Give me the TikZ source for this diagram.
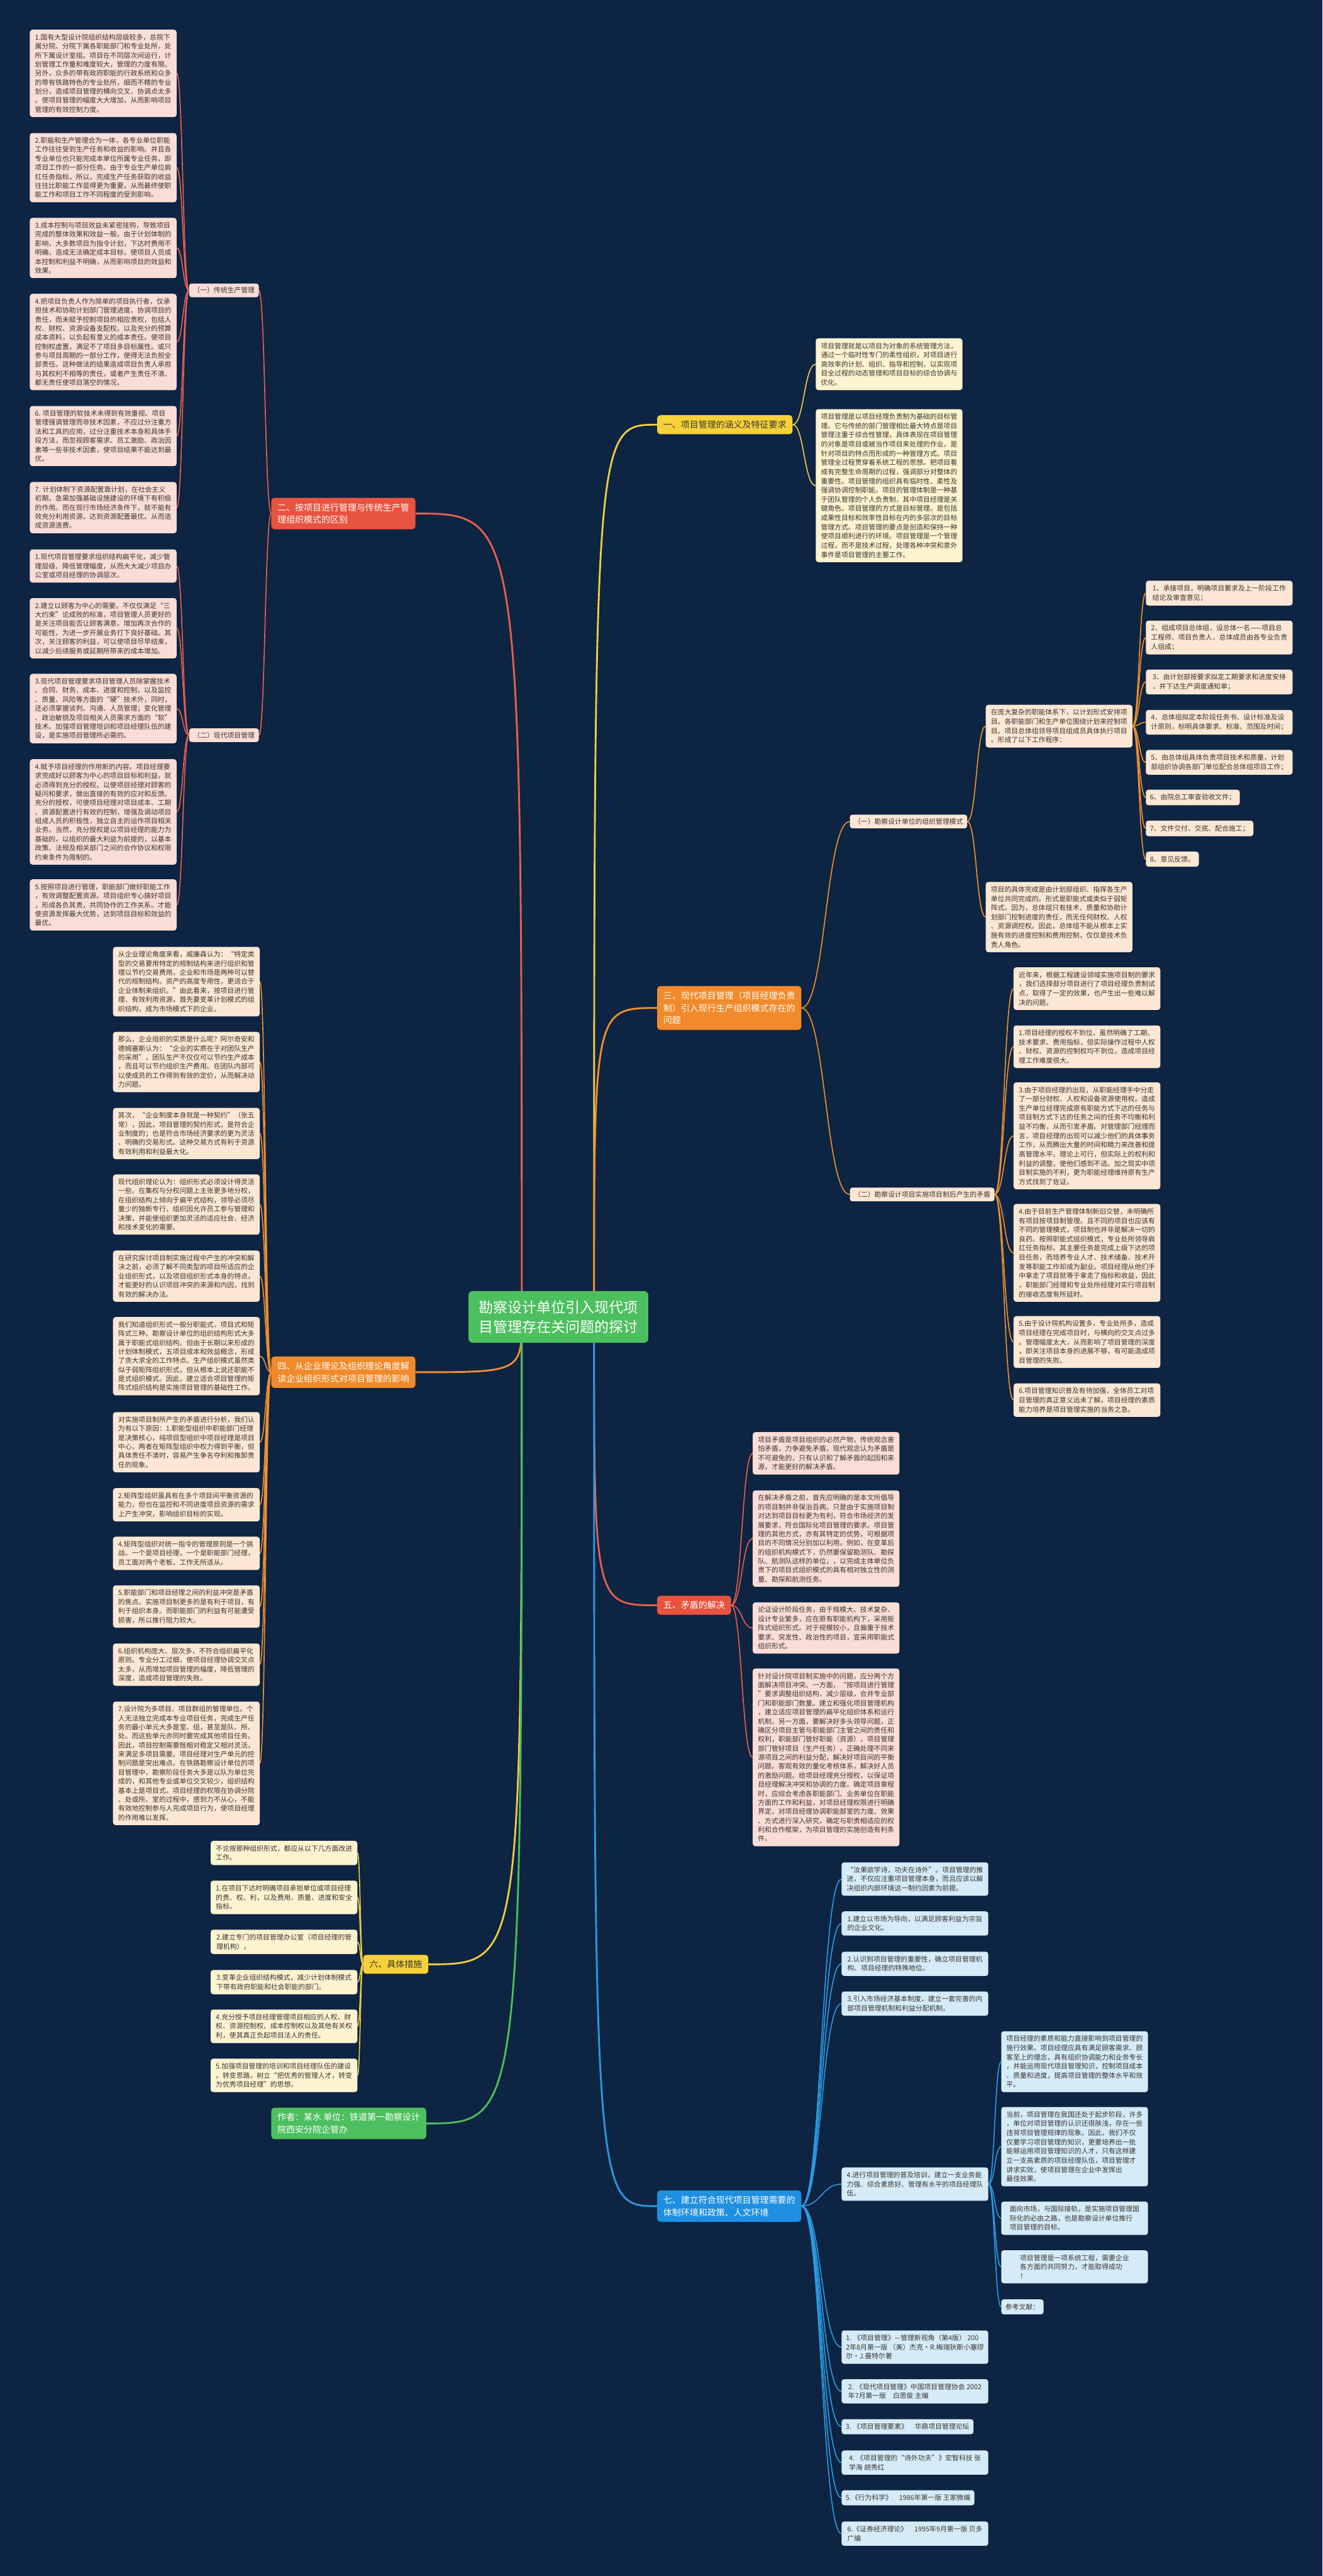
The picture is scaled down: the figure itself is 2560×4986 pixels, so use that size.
\documentclass[tikz,border=0pt]{standalone}
\usepackage{fontspec}
\setmainfont{Noto Sans CJK SC}
\usetikzlibrary{calc}
\definecolor{bgc}{HTML}{0D2442}
\definecolor{txt}{HTML}{3A3530}
\definecolor{redL}{HTML}{E5604F}
\definecolor{redN}{HTML}{E8533F}
\definecolor{pinkbox}{HTML}{FADDD7}
\definecolor{orangeL}{HTML}{F0902F}
\definecolor{orangeN}{HTML}{F08A2A}
\definecolor{peach}{HTML}{FCE7D4}
\definecolor{yellowL}{HTML}{EFCB45}
\definecolor{yellowN}{HTML}{F6D139}
\definecolor{ybox}{HTML}{FCF3D0}
\definecolor{blueL}{HTML}{2A9AE2}
\definecolor{blueN}{HTML}{1E8FE1}
\definecolor{bbox}{HTML}{D5EBF8}
\definecolor{greenN}{HTML}{4CBF5E}
\pgfdeclarelayer{bg}
\pgfsetlayers{bg,main}
\tikzset{
  bx/.style={fill=#1, rounded corners=5pt, text=txt, align=left, minimum width=284pt, inner xsep=8pt, inner ysep=8.4pt},
  bA/.style={bx=#1, font=\fontsize{13.2}{17.5}\selectfont},
  bB/.style={bx=#1, font=\fontsize{13.2}{17.8}\selectfont},
  bBn/.style={bB=#1, minimum width=0pt},
  subn/.style={fill=#1, rounded corners=5pt, text=txt, font=\fontsize{13.2}{17.8}\selectfont, inner xsep=8pt, inner ysep=7pt},
  br/.style={fill=#1, rounded corners=6pt, text=white, align=left, font=\fontsize{17}{24}\selectfont, inner xsep=12pt, inner ysep=10.5pt},
  ctr/.style={fill=greenN, rounded corners=8pt, text=white, align=center, font=\fontsize{28}{38}\selectfont, inner xsep=20pt, inner ysep=18pt},
}
\newcommand\mmconn[3]{\draw[#1] let \p1=(#2), \p2=(#3) in (\p1) .. controls ({0.5*\x1+0.5*\x2},\y1) and ({0.5*\x1+0.5*\x2},\y2) .. (\p2);}
\newcommand\cconn[3]{\draw[draw=#1, line width=3.5pt] let \p1=(#2), \p2=(#3) in (\p1) .. controls (\x1,\y2) .. (\p2);}
\begin{document}
\begin{tikzpicture}[x=1pt,y=-1pt]
\useasboundingbox (0,0) rectangle (2560,4986);
\begin{pgfonlayer}{bg}
\fill[bgc] (0,0) rectangle (2560,4986);
\end{pgfonlayer}

% ---------- centre and branches ----------
\node[ctr] (C) at (1081,2549) {勘察设计单位引入现代项\\目管理存在关问题的探讨};
\coordinate (CR) at (1150,2549);
\coordinate (CL) at (1010,2549);

\node[br=yellowN, text=txt, anchor=west] (B1) at (1272,822) {一、项目管理的涵义及特征要求};
\node[br=redN, anchor=west] (B2) at (525,994) {二、按项目进行管理与传统生产管\\理组织模式的区别};
\node[br=orangeN, anchor=west] (B3) at (1272,1951) {三、现代项目管理（项目经理负责\\制）引入现行生产组织模式存在的\\问题};
\node[br=orangeN, anchor=west] (B4) at (525,2656) {四、从企业理论及组织理论角度解\\读企业组织形式对项目管理的影响};
\node[br=redN, anchor=west] (B5) at (1272,3107) {五、矛盾的解决};
\node[br=yellowN, text=txt, anchor=west] (B6) at (703,3802) {六、具体措施};
\node[br=greenN, anchor=west] (B8) at (525,4110) {作者：某水 单位：铁道第一勘察设计\\院西安分院企管办};
\node[br=blueN, anchor=west] (B7) at (1272,4270) {七、建立符合现代项目管理需要的\\体制环境和政策、人文环境};

% ---------- 二 ----------
\node[subn=pinkbox, anchor=west] (S21) at (366,562) {（一）传统生产管理};
\node[subn=pinkbox, anchor=west] (S22) at (366,1423) {（二）现代项目管理};

\node[bA=pinkbox, anchor=east] (L1) at (342,142) {1.国有大型设计院组织结构层级较多，总院下\\属分院、分院下属各职能部门和专业处所，处\\所下属设计室组。项目在不同层次间运行，计\\划管理工作量和难度较大，管理的力度有限。\\另外，众多的带有政府职能的行政系统和众多\\的带有铁路特色的专业处所，细而不精的专业\\划分，造成项目管理的横向交叉、协调点太多\\。使项目管理的幅度大大增加，从而影响项目\\管理的有效控制力度。};
\node[bA=pinkbox, anchor=east] (L2) at (342,324.5) {2.职能和生产管理合为一体，各专业单位职能\\工作往往受到生产任务和收益的影响。并且各\\专业单位也只能完成本单位所属专业任务，即\\项目工作的一部分任务。由于专业生产单位肩\\扛任务指标，所以，完成生产任务获取的收益\\往往比职能工作显得更为重要，从而最终使职\\能工作和项目工作不同程度的受到影响。};
\node[bA=pinkbox, anchor=east] (L3) at (342,480) {3.成本控制与项目效益未紧密挂钩，导致项目\\完成的整体效果和效益一般。由于计划体制的\\影响，大多数项目为指令计划，下达时费用不\\明确，造成无法确定成本目标，使项目人员成\\本控制和利益不明确，从而影响项目的效益和\\效果。};
\node[bA=pinkbox, anchor=east] (L4) at (342,662) {4.把项目负责人作为简单的项目执行者，仅承\\担技术和协助计划部门管理进度、协调项目的\\责任，而未赋予控制项目的相应责权，包括人\\权、财权、资源设备支配权。以及充分的预算\\成本资料，以负起有意义的成本责任。使项目\\控制权虚置，满足不了项目多目标属性。或只\\参与项目周期的一部分工作，使得无法负担全\\部责任。这种做法的结果造成项目负责人承担\\与其权利不相等的责任，或者产生责任不清、\\都无责任使项目落空的情况。};
\node[bA=pinkbox, anchor=east] (L6) at (342,844) {6. 项目管理的软技术未得到有效重视。项目\\管理强调管理而非技术因素，不应过分注重方\\法和工具的应用，过分注重技术本身和具体手\\段方法，而忽视顾客需求、员工激励、政治因\\素等一些非技术因素，使项目结果不能达到最\\优。};
\node[bA=pinkbox, anchor=east] (L7) at (342,982.5) {7. 计划体制下资源配置靠计划，在社会主义\\初期，急需加强基础设施建设的环境下有积极\\的作用。而在现行市场经济条件下，就不能有\\效充分利用资源，达到资源配置最优。从而造\\成资源浪费。};

\node[bA=pinkbox, anchor=east] (M1) at (342,1095.5) {1.现代项目管理要求组织结构扁平化，减少管\\理层级、降低管理幅度，从而大大减少项目办\\公室或项目经理的协调层次。};
\node[bA=pinkbox, anchor=east] (M2) at (342,1216) {2.建立以顾客为中心的需要。不仅仅满足“三\\大约束”论成败的标准，项目管理人员更好的\\是关注项目能否让顾客满意。增加再次合作的\\可能性，为进一步开展业务打下良好基础。其\\次，关注顾客的利益，可以使项目尽早结束，\\以减少后续服务或延期所带来的成本增加。};
\node[bA=pinkbox, anchor=east] (M3) at (342,1371.5) {3.现代项目管理要求项目管理人员除掌握技术\\、合同、财务、成本、进度和控制，以及监控\\、质量、风险等方面的“硬”技术外，同时，\\还必须掌握谈判、沟通、人员管理；变化管理\\、政治敏锐及项目相关人员需求方面的“软”\\技术。加强项目管理培训和项目经理队伍的建\\设，是实施项目管理所必需的。};
\node[bA=pinkbox, anchor=east] (M4) at (342,1571.5) {4.赋予项目经理的作用新的内容。项目经理要\\求完成好以顾客为中心的项目目标和利益，就\\必须得到充分的授权。以使项目经理对顾客的\\疑问和要求，做出直接的有效的应对和反馈。\\充分的授权，可使项目经理对项目成本、工期\\、资源配置进行有效的控制，增强及调动项目\\组成人员的积极性，独立自主的运作项目相关\\业务。当然，充分授权是以项目经理的能力为\\基础的，以组织的最大利益为前提的，以基本\\政策、法规及相关部门之间的合作协议和权限\\约束条件为限制的。};
\node[bA=pinkbox, anchor=east] (M5) at (342,1751.5) {5.按照项目进行管理，职能部门做好职能工作\\，有效调整配置资源。项目组织专心搞好项目\\，形成各负其责，共同协作的工作关系。才能\\使资源发挥最大优势，达到项目目标和效益的\\最优。};

% ---------- 四 ----------
\node[bA=peach, anchor=east] (F1) at (503,1900) {从企业理论角度来看，威廉森认为：“特定类\\型的交易要用特定的规制结构来进行组织和管\\理以节约交易费用，企业和市场是两种可以替\\代的规制结构。资产的高度专用性，更适合于\\企业体制来组织。”由此看来，按项目进行管\\理、有效利用资源，首先要变革计划模式的组\\织结构，成为市场模式下的企业。};
\node[bA=peach, anchor=east] (F2) at (503,2055.5) {那么，企业组织的实质是什么呢？阿尔奇安和\\德姆塞斯认为：“企业的实质在于对团队生产\\的采用”，团队生产不仅仅可以节约生产成本\\，而且可以节约组织生产费用。在团队内部可\\以使成员的工作得到有效的定价，从而解决动\\力问题。};
\node[bA=peach, anchor=east] (F3) at (503,2194) {其次，“企业制度本身就是一种契约”（张五\\常），因此，项目管理的契约形式，是符合企\\业制度的；也是符合市场经济要求的更为灵活\\、明确的交易形式。这种交易方式有利于资源\\有效利用和利益最大化。};
\node[bA=peach, anchor=east] (F4) at (503,2331.5) {现代组织理论认为：组织形式必须设计得灵活\\一些。在集权与分权问题上主张更多地分权，\\在组织结构上倾向于扁平式结构，领导必须尽\\量少的独断专行，组织因允许员工参与管理和\\决策，并能使组织更加灵活的适应社会、经济\\和技术变化的需要。};
\node[bA=peach, anchor=east] (F5) at (503,2470) {在研究探讨项目制实施过程中产生的冲突和解\\决之前，必须了解不同类型的项目所适应的企\\业组织形式，以及项目组织形式本身的特点，\\才能更好的认识项目冲突的来源和内因，找到\\有效的解决办法。};
\node[bA=peach, anchor=east] (F6) at (503,2625) {我们知道组织形式一般分职能式、项目式和矩\\阵式三种。勘察设计单位的组织结构形式大多\\属于职能式组织结构。但由于长期以来形成的\\计划体制模式，五项目成本和效益概念，形成\\了贪大求全的工作特点。生产组织模式虽然类\\似于弱矩阵组织形式，但从根本上说还职能不\\是式组织模式。因此，建立适合项目管理的矩\\阵式组织结构是实施项目管理的基础性工作。};
\node[bA=peach, anchor=east] (F7) at (503,2791.5) {对实施项目制所产生的矛盾进行分析，我们认\\为有以下原因：1.职能型组织中职能部门经理\\是决策核心，纯项目型组织中项目经理是项目\\中心，两者在矩阵型组织中权力得到平衡，但\\具体责任不清时，容易产生争名夺利和推卸责\\任的现象。};
\node[bA=peach, anchor=east] (F8) at (503,2912.5) {2.矩阵型组织虽具有在多个项目间平衡资源的\\能力，但也在监控和不同进度项目资源的需求\\上产生冲突，影响组织目标的实现。};
\node[bA=peach, anchor=east] (F9) at (503,3006.5) {4.矩阵型组织对统一指令的管理原则是一个挑\\战。一个是项目经理，一个是职能部门经理，\\员工面对两个老板，工作无所适从。};
\node[bA=peach, anchor=east] (F10) at (503,3109.5) {5.职能部门和项目经理之间的利益冲突是矛盾\\的焦点。实施项目制更多的是有利于项目，有\\利于组织本身。而职能部门的利益有可能遭受\\损害，所以推行阻力较大。};
\node[bA=peach, anchor=east] (F11) at (503,3222) {6.组织机构庞大、层次多，不符合组织扁平化\\原则。专业分工过细，使项目经理协调交叉点\\太多，从而增加项目管理的幅度，降低管理的\\深度，造成项目管理的失败。};
\node[bA=peach, anchor=east] (F12) at (503,3413) {7.设计院为多项目、项目群组的管理单位。个\\人无法独立完成本专业项目任务，完成生产任\\务的最小单元大多是室、组，甚至是队、所、\\处。而这些单元亦同时要完成其他项目任务。\\因此，项目控制需要既相对稳定又相对灵活，\\来满足多项目需要。项目经理对生产单元的控\\制问题是突出难点。在铁路勘察设计单位的项\\目管理中，勘察阶段任务大多是以队为单位完\\成的，和其他专业或单位交叉较少，组织结构\\基本上是项目式。项目经理的权限在协调分院\\、处或所、室的过程中，感到力不从心，不能\\有效地控制参与人完成项目行为，使项目经理\\的作用难以发挥。};

% ---------- 六 ----------
\node[bB=ybox, anchor=east] (X0) at (692,3586.5) {不论按那种组织形式，都应从以下几方面改进\\工作。};
\node[bB=ybox, anchor=east] (X1) at (692,3672.5) {1.在项目下达时明确项目承担单位或项目经理\\的责、权、利，以及费用、质量、进度和安全\\指标。};
\node[bB=ybox, anchor=east] (X2) at (692,3758.5) {2.建立专门的项目管理办公室（项目经理的管\\理机构）。};
\node[bB=ybox, anchor=east] (X3) at (692,3836.5) {3.变革企业组织结构模式，减少计划体制模式\\下带有政府职能和社会职能的部门。};
\node[bB=ybox, anchor=east] (X4) at (692,3922) {4.充分授予项目经理管理项目相应的人权、财\\权、资源控制权、成本控制权以及其他有关权\\利，使其真正负起项目法人的责任。};
\node[bB=ybox, anchor=east] (X5) at (692,4017) {5.加强项目管理的培训和项目经理队伍的建设\\。转变思路，树立“把优秀的管理人才，转变\\为优秀项目经理”的思想。};

% ---------- 一 ----------
\node[bB=ybox, anchor=west] (Y1) at (1579,705) {项目管理就是以项目为对象的系统管理方法，\\通过一个临时性专门的柔性组织，对项目进行\\高效率的计划、组织、指导和控制，以实现项\\目全过程的动态管理和项目目标的综合协调与\\优化。};
\node[bB=ybox, anchor=west] (Y2) at (1579,940) {项目管理是以项目经理负责制为基础的目标管\\理。它与传统的部门管理相比最大特点是项目\\管理注重于综合性管理，具体表现在项目管理\\的对象是项目或被当作项目来处理的作业。是\\针对项目的特点而形成的一种管理方式。项目\\管理全过程贯穿着系统工程的思想。把项目看\\成有完整生命周期的过程，强调部分对整体的\\重要性。项目管理的组织具有临时性、柔性及\\强调协调控制职能。项目的管理体制是一种基\\于团队管理的个人负责制，其中项目经理是关\\键角色。项目管理的方式是目标管理。是包括\\成果性目标和效率性目标在内的多层次的目标\\管理方式。项目管理的要点是创造和保持一种\\使项目顺利进行的环境。项目管理是一个管理\\过程，而不是技术过程，处理各种冲突和意外\\事件是项目管理的主要工作。};

% ---------- 三 ----------
\node[subn=peach, anchor=west] (S31) at (1645,1590) {（一）勘察设计单位的组织管理模式};
\node[subn=peach, anchor=west] (S32) at (1645,2312) {（二）勘察设计项目实施项目制后产生的矛盾};
\node[bB=peach, anchor=west] (T0) at (1908,1405.5) {在庞大复杂的职能体系下，以计划形式安排项\\目。各职能部门和生产单位围绕计划来控制项\\目。项目总体组领导项目组成员具体执行项目\\。形成了以下工作程序：};
\node[bB=peach, anchor=west] (T9) at (1908,1775) {项目的具体完成是由计划部组织、指挥各生产\\单位共同完成的。形式是职能式或类似于弱矩\\阵式。因为，总体组只有技术、质量和协助计\\划部门控制进度的责任，而无任何财权、人权\\、资源调控权。因此，总体组不能从根本上实\\施有效的进度控制和费用控制，仅仅是技术负\\责人角色。};
\node[bB=peach, anchor=west] (P1) at (2218,1148) {1、承接项目，明确项目要求及上一阶段工作\\结论及审查意见；};
\node[bB=peach, anchor=west] (P2) at (2218,1234) {2、组成项目总体组，设总体一名——项目总\\工程师、项目负责人，总体成员由各专业负责\\人组成；};
\node[bB=peach, anchor=west] (P3) at (2218,1320) {3、由计划部按要求拟定工期要求和进度安排\\，并下达生产调度通知单；};
\node[bB=peach, anchor=west] (P4) at (2218,1398) {4、总体组拟定本阶段任务书、设计标准及设\\计原则，标明具体要求、标准、范围及时间；};
\node[bB=peach, anchor=west] (P5) at (2218,1475.5) {5、由总体组具体负责项目技术和质量，计划\\部组织协调各部门单位配合总体组项目工作；};
\node[bBn=peach, anchor=west] (P6) at (2218,1543.5) {6、由院总工审查验收文件；};
\node[bBn=peach, anchor=west] (P7) at (2218,1603.5) {7、文件交付、交底、配合施工；};
\node[bBn=peach, anchor=west] (P8) at (2218,1663) {8、意见反馈。};

\node[bB=peach, anchor=west] (U0) at (1962,1913.5) {近年来，根据工程建设领域实施项目制的要求\\，我们选择部分项目进行了项目经理负责制试\\点，取得了一定的效果，也产生出一些难以解\\决的问题。};
\node[bB=peach, anchor=west] (U1) at (1962,2026) {1.项目经理的授权不到位，虽然明确了工期、\\技术要求、费用指标，但实际操作过程中人权\\、财权、资源的控制权均不到位，造成项目经\\理工作难度很大。};
\node[bB=peach, anchor=west] (U3) at (1962,2198.5) {3.由于项目经理的出现，从职能经理手中分走\\了一部分财权、人权和设备资源使用权。造成\\生产单位经理完成原有职能方式下达的任务与\\项目制方式下达的任务之间的任务不均衡和利\\益不均衡，从而引发矛盾。对管理部门经理而\\言，项目经理的出现可以减少他们的具体事务\\工作，从而腾出大量的时间和精力来改善和提\\高管理水平。理论上可行，但实际上的权利和\\利益的调整，使他们感到不适。加之现实中项\\目制实施的不利，更为职能经理维持原有生产\\方式找到了佐证。};
\node[bB=peach, anchor=west] (U4) at (1962,2425) {4.由于目前生产管理体制新旧交替，未明确所\\有项目按项目制管理。且不同的项目也应该有\\不同的管理模式，项目制也并非是解决一切的\\良药。按照职能式组织模式，专业处所领导肩\\扛任务指标。其主要任务是完成上级下达的项\\目任务，而培养专业人才、技术储备、技术开\\发等职能工作却成为副业。项目经理从他们手\\中拿走了项目就等于拿走了指标和收益，因此\\，职能部门经理和专业处所经理对实行项目制\\的接收态度有所延时。};
\node[bB=peach, anchor=west] (U5) at (1962,2597.5) {5.由于设计院机构设置多，专业处所多，造成\\项目经理在完成项目时，与横向的交叉点过多\\。管理幅度太大，从而影响了项目管理的深度\\，即关注项目本身的进展不够，有可能造成项\\目管理的失败。};
\node[bB=peach, anchor=west] (U6) at (1962,2710) {6.项目管理知识普及有待加强，全体员工对项\\目管理的真正意义远未了解。项目经理的素质\\能力培养是项目管理实施的当务之急。};

% ---------- 五 ----------
\node[bA=pinkbox, anchor=west] (R1) at (1457,2813) {项目矛盾是项目组织的必然产物，传统观念害\\怕矛盾，力争避免矛盾。现代观念认为矛盾是\\不可避免的，只有认识和了解矛盾的起因和来\\源，才能更好的解决矛盾。};
\node[bA=pinkbox, anchor=west] (R2) at (1457,2978) {在解决矛盾之前，首先应明确的是本文所倡导\\的项目制并非保治百病。只是由于实施项目制\\对达到项目目标更为有利，符合市场经济的发\\展要求，符合国际化项目管理的要求。项目管\\理的其他方式，亦有其特定的优势，可根据项\\目的不同情况分别加以利用。例如，在变革后\\的组织机构模式下，仍然要保留勘测队、勘探\\队、航测队这样的单位，，以完成主体单位负\\责下的项目式组织模式的具有相对独立性的测\\量、勘探和航测任务。};
\node[bA=pinkbox, anchor=west] (R3) at (1457,3151) {论证设计阶段任务，由于规模大、技术复杂、\\设计专业繁多，应在原有职能机构下，采用矩\\阵式组织形式。对于规模较小，且偏重于技术\\要求、突发性、政治性的项目，宜采用职能式\\组织形式。};
\node[bA=pinkbox, anchor=west] (R4) at (1457,3401.5) {针对设计院项目制实施中的问题，应分两个方\\面解决项目冲突。一方面，“按项目进行管理\\”要求调整组织结构，减少层级，合并专业部\\门和职能部门数量。建立和强化项目管理机构\\，建立适应项目管理的扁平化组织体系和运行\\机制。另一方面，要解决好多头领导问题，正\\确区分项目主管与职能部门主管之间的责任和\\权利，职能部门管好职能（资源），项目管理\\部门管好项目（生产任务）。正确处理不同来\\源项目之间的利益分配，解决好项目间的平衡\\问题。客观有效的量化考核体系，解决好人员\\的激励问题。给项目经理充分授权，以保证项\\目经理解决冲突和协调的力度。确定项目章程\\时，应综合考虑各职能部门、业务单位在职能\\方面的工作和利益，对项目经理权限进行明确\\界定。对项目经理协调职能部室的力度、效果\\、方式进行深入研究，确定与职责相适应的权\\利和合作框架，为项目管理的实施创造有利条\\件。};

% ---------- 七 ----------
\node[bB=bbox, anchor=west] (Q0) at (1629,3637) {“汝果欲学诗，功夫在诗外”。项目管理的推\\进，不仅应注重项目管理本身，而且应该以解\\决组织内部环境这一制约因素为前提。};
\node[bB=bbox, anchor=west] (Q1) at (1629,3723) {1.建立以市场为导向，以满足顾客利益为宗旨\\的企业文化。};
\node[bB=bbox, anchor=west] (Q2) at (1629,3801) {2.认识到项目管理的重要性，确立项目管理机\\构、项目经理的特殊地位。};
\node[bB=bbox, anchor=west] (Q3) at (1629,3878) {3.引入市场经济基本制度，建立一套完善的内\\部项目管理机制和利益分配机制。};
\node[bB=bbox, anchor=west] (Q4) at (1629,4227.5) {4.进行项目管理的普及培训，建立一支业务能\\力强、综合素质好、管理有水平的项目经理队\\伍。};
\node[bB=bbox, anchor=west] (V1) at (1938,3990.5) {项目经理的素质和能力直接影响到项目管理的\\施行效果。项目经理应具有满足顾客需求、顾\\客至上的理念，具有组织协调能力和业务专长\\，并能运用现代项目管理知识，控制项目成本\\、质量和进度，提高项目管理的整体水平和效\\平。};
\node[bB=bbox, anchor=west] (V2) at (1938,4155) {当前，项目管理在我国还处于起步阶段，许多\\，单位对项目管理的认识还很肤浅，存在一些\\违背项目管理规律的现象。因此，我们不仅\\仅要学习项目管理的知识，更要培养出一批\\能够运用项目管理知识的人才，只有这样建\\立一支高素质的项目经理队伍，项目管理才\\讲求实效，使项目管理在企业中发挥出\\最佳效果。};
\node[bB=bbox, anchor=west] (V3) at (1938,4293.5) {面向市场，与国际接轨，是实施项目管理国\\际化的必由之路，也是勘察设计单位推行\\项目管理的目标。};
\node[bB=bbox, anchor=west] (V4) at (1938,4387.5) {项目管理是一项系统工程，需要企业\\各方面的共同努力，才能取得成功\\！};
\node[bBn=bbox, anchor=west] (V5) at (1938,4465) {参考文献：};
\node[bB=bbox, anchor=west] (W1) at (1629,4543) {1. 《项目管理》—管理新视角（第4版） 200\\2年8月第一版 （美）杰克·R.梅瑞狄斯小塞缪\\尔·J.曼特尔著};
\node[bB=bbox, anchor=west] (W2) at (1629,4628.5) {2. 《现代项目管理》中国项目管理协会 2002\\年7月第一版　白思俊 主编};
\node[bBn=bbox, anchor=west] (W3) at (1629,4697) {3. 《项目管理要素》　华鼎项目管理论坛};
\node[bB=bbox, anchor=west] (W4) at (1629,4766.5) {4. 《项目管理的“诗外功夫”》宏智科技 张\\学海 胡秀红};
\node[bBn=bbox, anchor=west] (W5) at (1629,4834.5) {5.《行为科学》　1986年第一版 王家微编};
\node[bB=bbox, anchor=west] (W6) at (1629,4904) {6.《证券经济理论》　1995年9月第一版 贝多\\广编};

% ---------- connectors ----------
\begin{pgfonlayer}{bg}
\cconn{yellowL}{CR}{B1.west}
\cconn{orangeL}{CR}{B3.west}
\cconn{redL}{CR}{B5.west}
\cconn{blueL}{CR}{B7.west}
\cconn{redL}{CL}{B2.east}
\cconn{orangeL}{CL}{B4.east}
\cconn{yellowL}{CL}{B6.east}
\cconn{greenN}{CL}{B8.east}

\foreach \t in {Y1,Y2} {\mmconn{draw=yellowL,line width=2pt}{B1.east}{\t.west}}
\foreach \t in {S21,S22} {\mmconn{draw=redL,line width=2pt}{B2.west}{\t.east}}
\foreach \t in {L1,L2,L3,L4,L6,L7} {\mmconn{draw=redL,line width=2pt}{S21.west}{\t.east}}
\foreach \t in {M1,M2,M3,M4,M5} {\mmconn{draw=redL,line width=2pt}{S22.west}{\t.east}}
\foreach \t in {S31,S32} {\mmconn{draw=orangeL,line width=2pt}{B3.east}{\t.west}}
\foreach \t in {T0,T9} {\mmconn{draw=orangeL,line width=2pt}{S31.east}{\t.west}}
\foreach \t in {P1,P2,P3,P4,P5,P6,P7,P8} {\mmconn{draw=orangeL,line width=2pt}{T0.east}{\t.west}}
\foreach \t in {U0,U1,U3,U4,U5,U6} {\mmconn{draw=orangeL,line width=2pt}{S32.east}{\t.west}}
\foreach \t in {F1,F2,F3,F4,F5,F6,F7,F8,F9,F10,F11,F12} {\mmconn{draw=orangeL,line width=2pt}{B4.west}{\t.east}}
\foreach \t in {R1,R2,R3,R4} {\mmconn{draw=redL,line width=2pt}{B5.east}{\t.west}}
\foreach \t in {X0,X1,X2,X3,X4,X5} {\mmconn{draw=yellowL,line width=2pt}{B6.west}{\t.east}}
\foreach \t in {Q0,Q1,Q2,Q3,Q4,W1,W2,W3,W4,W5,W6} {\mmconn{draw=blueL,line width=2pt}{B7.east}{\t.west}}
\foreach \t in {V1,V2,V3,V4,V5} {\mmconn{draw=blueL,line width=2pt}{Q4.east}{\t.west}}
\end{pgfonlayer}
\end{tikzpicture}
\end{document}
